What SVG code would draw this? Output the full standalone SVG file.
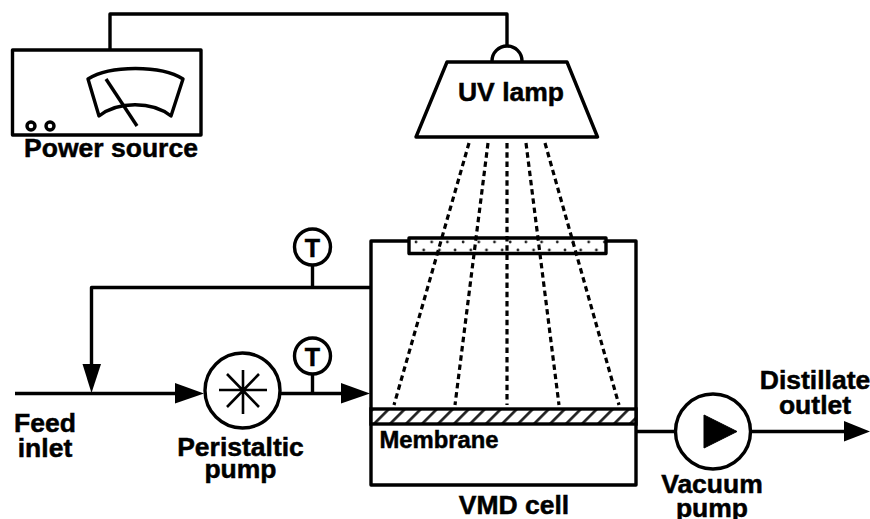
<svg xmlns="http://www.w3.org/2000/svg" width="870" height="519" viewBox="0 0 870 519">
<defs>
<style>
text{font-family:"Liberation Sans",Arial,sans-serif;font-weight:700;fill:#000;stroke:#000;stroke-width:.5px;font-size:26.500px;text-anchor:middle}
.s{fill:none;stroke:#000;stroke-width:3.4;stroke-linejoin:round;stroke-linecap:butt}
.w{fill:#fff;stroke:#000;stroke-width:3.4;stroke-linejoin:round}
.star{fill:none;stroke:#000;stroke-width:2.6}
.ray{fill:none;stroke:#000;stroke-width:3.2;stroke-dasharray:5.5 3.8}
.a{fill:#000;stroke:none}
</style>
<pattern id="dots" width="15.7" height="16" patternUnits="userSpaceOnUse" x="408" y="238">
<circle cx="8" cy="4" r="1.4" fill="#222"/><circle cx="0" cy="12" r="1.4" fill="#222"/><circle cx="15.7" cy="12" r="1.4" fill="#222"/>
</pattern>
<pattern id="hatch" width="16" height="15" patternUnits="userSpaceOnUse" patternTransform="translate(371 409) skewX(-45)">
<rect width="16" height="15" fill="#fff"/><rect x="0" y="0" width="3.8" height="15" fill="#222"/>
</pattern>
</defs>
<rect width="870" height="519" fill="#fff"/>
<g id="connectors">
<path class="s" d="M110 49V14H507V46"/>
<path class="s" d="M371 287.500H91.500V366"/>
<path class="s" d="M15 393.500H176"/>
<path class="s" d="M281 393.500H342"/>
<path class="s" d="M636 431.500H674"/>
<path class="s" d="M752 431.500H845"/>
<path class="s" d="M312.500 266V287"/>
<path class="s" d="M312.500 375V393"/>
<polygon class="a" points="82.500,364 101,364 91.500,393"/>
<polygon class="a" points="175,383 175,403.500 204,393.500"/>
<polygon class="a" points="341,383 341,403.500 370,393.500"/>
<polygon class="a" points="844,421 844,441.500 870,431.500"/>
</g>
<g id="vmd-cell">
<path class="s" d="M409 241H371V485H636V241H605"/>
<rect x="371" y="409" width="265" height="15" fill="url(#hatch)" stroke="#000" stroke-width="3.400"/>
<text x="439" y="448" style="font-size:23.800px">Membrane</text>
<text x="514" y="514" style="font-size:26.500px">VMD cell</text>
</g>
<g id="window">
<rect x="409" y="238" width="197" height="15.500" fill="url(#dots)" stroke="#000" stroke-width="3.400" stroke-linejoin="round"/>
</g>
<g id="uv-lamp">
<path class="s" d="M492 61A15 15 0 0 1 522 61"/>
<polygon class="w" points="447,62 567,62 597.500,137 416,137"/>
<text x="511" y="100.500">UV lamp</text>
</g>
<g id="uv-rays">
<path class="ray" d="M469 143L394 405"/>
<path class="ray" d="M488 143L455 405"/>
<path class="ray" d="M507 143V405"/>
<path class="ray" d="M526 143L559 405"/>
<path class="ray" d="M545 143L619 405"/>
</g>
<g id="power-source">
<rect class="w" x="12.500" y="50" width="188.500" height="85"/>
<path class="s" d="M88 79C110 65 161 65 183 79L171 116C152 101 118 101 99 116Z"/>
<path class="s" d="M106 79L137 126"/>
<circle class="s" cx="31" cy="126" r="4"/>
<circle class="s" cx="50" cy="126" r="4"/>
<text x="111" y="157">Power source</text>
</g>
<g id="thermometer-top">
<circle class="w" cx="312.500" cy="247" r="18"/>
<text x="312.500" y="256.500" style="font-size:25px">T</text>
</g>
<g id="thermometer-feed">
<circle class="w" cx="312.500" cy="356" r="18"/>
<text x="312.500" y="365.500" style="font-size:25px">T</text>
</g>
<g id="peristaltic-pump">
<circle class="w" cx="242.500" cy="390.500" r="37.500"/>
<path class="star" d="M219 390H267M243 370V414M227 374L259 407M259 374L227 407"/>
<text x="240.500" y="456">Peristaltic</text>
<text x="240.500" y="478">pump</text>
</g>
<g id="vacuum-pump">
<circle class="w" cx="713" cy="431.500" r="37.500"/>
<polygon points="704,415 704,448 737,431.500" fill="#000" stroke="#000" stroke-width="1" stroke-linejoin="round"/>
<text x="712" y="493">Vacuum</text>
<text x="712" y="516.500">pump</text>
</g>
<g id="labels">
<text x="45" y="432">Feed</text>
<text x="45" y="456.500">inlet</text>
<text x="815" y="389">Distillate</text>
<text x="815" y="414">outlet</text>
</g>
</svg>
